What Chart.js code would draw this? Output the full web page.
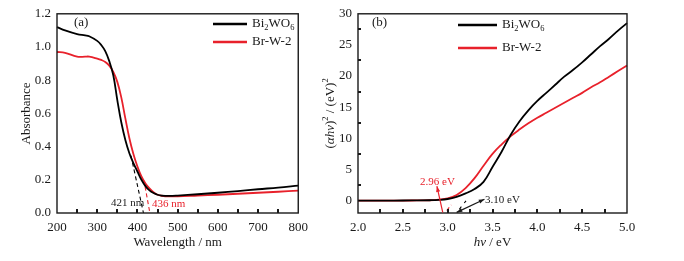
<!DOCTYPE html>
<html>
<head>
<meta charset="utf-8">
<script src="https://cdn.jsdelivr.net/npm/chart.js@4.4.1/dist/chart.umd.min.js"></script>
<style>
  html, body { margin: 0; padding: 0; background: #fff; }
  #wrap { position: relative; width: 684px; height: 261px; overflow: hidden; }
  canvas { position: absolute; top: 0; }
</style>
</head>
<body>
<div id="wrap">
  <canvas id="chartA" width="315" height="261" style="left:0"></canvas>
  <canvas id="chartB" width="369" height="261" style="left:315px"></canvas>
</div>
<script>
// panel (a): UV-vis absorbance
const waveNm = [200, 220, 250, 270, 280, 300, 310, 320, 330, 340, 350, 360, 370, 380, 390, 400, 410, 420, 430, 440, 450, 460, 480, 500, 550, 600, 650, 700, 750, 800];
const absBi2WO6 = [1.12, 1.10, 1.078, 1.07, 1.065, 1.037, 1.012, 0.975, 0.915, 0.83, 0.68, 0.545, 0.44, 0.36, 0.3, 0.25, 0.2, 0.162, 0.136, 0.12, 0.11, 0.105, 0.103, 0.105, 0.113, 0.122, 0.132, 0.143, 0.153, 0.165];
const absBrW2 = [0.97, 0.965, 0.942, 0.942, 0.942, 0.93, 0.922, 0.91, 0.888, 0.85, 0.79, 0.695, 0.57, 0.45, 0.355, 0.28, 0.22, 0.178, 0.148, 0.125, 0.11, 0.104, 0.1, 0.1, 0.105, 0.11, 0.116, 0.122, 0.128, 0.135];
const tangentBiNm = [384, 415];
const tangentBiAbs = [0.345, 0];
const tangentBrNm = [419, 431];
const tangentBrAbs = [0.16, 0];

// panel (b): Tauc plot
const energyEv = [2.0, 2.2, 2.4, 2.6, 2.8, 2.9, 3.0, 3.1, 3.2, 3.3, 3.4, 3.5, 3.6, 3.7, 3.8, 3.9, 4.0, 4.1, 4.2, 4.3, 4.4, 4.5, 4.6, 4.7, 4.8, 4.9, 5.0];
const taucBi2WO6 = [0, 0, 0, 0.02, 0.05, 0.1, 0.25, 0.6, 1.15, 1.85, 3.0, 5.4, 7.8, 10.5, 12.7, 14.5, 16.0, 17.3, 18.6, 19.9, 21.0, 22.2, 23.5, 24.8, 26.0, 27.3, 28.5];
const taucBrW2 = [0, 0, 0, 0.01, 0.05, 0.15, 0.35, 0.9, 2.0, 3.6, 5.6, 7.5, 9.0, 10.3, 11.4, 12.4, 13.3, 14.1, 14.9, 15.7, 16.5, 17.3, 18.2, 19.0, 19.9, 20.8, 21.7];
const tangentBiEv = [3.13, 3.24];
const tangentBiTauc = [-1.4, 0.6];
const tangentBrEv = [2.99, 3.04];
const tangentBrTauc = [-1.6, -0.7];
const arrowBrEv = [2.945, 2.88];
const arrowBrTauc = [-1.9, 2.3];
const arrowBiEv = [3.1, 3.41];
const arrowBiTauc = [-1.9, 0.2];
const yTicksB = [0, 5, 10, 15, 20, 25, 30];

const SERIF = "'Liberation Serif', 'Times New Roman', serif";
const RED = '#e8212b';
const INK = '#1a1a1a';

const pts = (xs, ys) => xs.map((x, i) => ({ x: x, y: ys[i] }));

// text made of runs: {t, it, sub, sup, color}
function drawRuns(ctx, runs, x, y, size, color) {
  let cx = x;
  runs.forEach(r => {
    const s = (r.sub || r.sup) ? size * 0.65 : size;
    ctx.font = (r.it ? 'italic ' : '') + s + 'px ' + SERIF;
    ctx.fillStyle = r.color || color;
    const dy = r.sub ? size * 0.3 : r.sup ? -size * 0.38 : 0;
    ctx.fillText(r.t, cx, y + dy);
    cx += ctx.measureText(r.t).width;
  });
  return cx - x;
}
function runsWidth(ctx, runs, size) {
  let w = 0;
  runs.forEach(r => {
    const s = (r.sub || r.sup) ? size * 0.65 : size;
    ctx.font = (r.it ? 'italic ' : '') + s + 'px ' + SERIF;
    w += ctx.measureText(r.t).width;
  });
  return w;
}

const bi2wo6Runs = [{ t: 'Bi' }, { t: '2', sub: true }, { t: 'WO' }, { t: '6', sub: true }];

// box + inward ticks
const frame = {
  id: 'frame',
  afterDatasetsDraw(chart, args, o) {
    const { ctx, chartArea: a, scales: { x, y } } = chart;
    ctx.save();
    ctx.strokeStyle = INK;
    ctx.lineWidth = 2;
    for (let v = x.min + o.xStep; v < x.max - 1e-9; v += o.xStep) {
      const px = Math.round(x.getPixelForValue(v));
      ctx.beginPath(); ctx.moveTo(px, a.bottom); ctx.lineTo(px, a.bottom - o.tick); ctx.stroke();
    }
    if (o.yStep) {
      for (let v = o.yStart; v < y.max; v += o.yStep) {
        const py = Math.round(y.getPixelForValue(v));
        ctx.beginPath(); ctx.moveTo(a.left, py); ctx.lineTo(a.left + 3, py); ctx.stroke();
      }
    }
    ctx.lineWidth = 1.4;
    ctx.strokeRect(a.left, a.top, a.right - a.left, a.bottom - a.top);
    ctx.restore();
  }
};

// legend, panel letter, notes, arrows, axis titles
const notes = {
  id: 'notes',
  afterDraw(chart, args, o) {
    const { ctx, chartArea: a, scales: { x, y } } = chart;
    ctx.save();
    ctx.textBaseline = 'middle';
    ctx.textAlign = 'left';
    ctx.font = '13px ' + SERIF;
    ctx.fillStyle = INK;
    ctx.fillText(o.letter, o.letterX, 23);
    o.legend.forEach(l => {
      ctx.strokeStyle = l.color; ctx.lineWidth = 2.4;
      ctx.beginPath(); ctx.moveTo(l.x0, l.y); ctx.lineTo(l.x1, l.y); ctx.stroke();
      drawRuns(ctx, l.runs, l.x1 + 5, l.y, 13, INK);
    });
    (o.labels || []).forEach(l => {
      ctx.font = '11px ' + SERIF;
      ctx.fillStyle = l.color;
      ctx.fillText(l.t, l.x, l.y);
    });
    (o.arrows || []).forEach(ar => {
      const x0 = x.getPixelForValue(ar.xs[0]), y0 = y.getPixelForValue(ar.ys[0]);
      const x1 = x.getPixelForValue(ar.xs[1]), y1 = y.getPixelForValue(ar.ys[1]);
      ctx.strokeStyle = ar.color; ctx.fillStyle = ar.color; ctx.lineWidth = 1.2;
      ctx.beginPath(); ctx.moveTo(x0, y0); ctx.lineTo(x1, y1); ctx.stroke();
      const head = (hx, hy, fx, fy) => {
        const ang = Math.atan2(hy - fy, hx - fx);
        ctx.beginPath();
        ctx.moveTo(hx, hy);
        ctx.lineTo(hx - 6 * Math.cos(ang - 0.35), hy - 6 * Math.sin(ang - 0.35));
        ctx.lineTo(hx - 6 * Math.cos(ang + 0.35), hy - 6 * Math.sin(ang + 0.35));
        ctx.closePath(); ctx.fill();
      };
      head(x1, y1, x0, y0);
      if (ar.both) head(x0, y0, x1, y1);
    });
    // axis titles
    ctx.fillStyle = INK;
    const xw = runsWidth(ctx, o.xTitle, 13);
    drawRuns(ctx, o.xTitle, (a.left + a.right) / 2 - xw / 2, 243, 13, INK);
    ctx.translate(o.yTitleX, (a.top + a.bottom) / 2);
    ctx.rotate(-Math.PI / 2);
    const yw = runsWidth(ctx, o.yTitle, 13);
    drawRuns(ctx, o.yTitle, -yw / 2, 0, 13, INK);
    ctx.restore();
  }
};

const tickFont = { family: SERIF, size: 13 };

function lineSet(data, color, width, dash) {
  return {
    data: data, borderColor: color, borderWidth: width, borderDash: dash || [],
    pointRadius: 0, fill: false, tension: 0.4, clip: false
  };
}

new Chart(document.getElementById('chartA'), {
  type: 'line',
  data: {
    datasets: [
      lineSet(pts(waveNm, absBi2WO6), '#000', 1.8),
      lineSet(pts(waveNm, absBrW2), RED, 1.8),
      lineSet(pts(tangentBiNm, tangentBiAbs), '#000', 1.1, [4, 3]),
      lineSet(pts(tangentBrNm, tangentBrAbs), RED, 1.1, [4, 3])
    ]
  },
  options: {
    responsive: false, animation: false, devicePixelRatio: 1,
    layout: { padding: { top: 12, right: 12, left: 0, bottom: 0 } },
    plugins: {
      legend: { display: false }, tooltip: { enabled: false },
      frame: { xStep: 50, tick: 4 },
      notes: {
        letter: '(a)', letterX: 74,
        legend: [
          { x0: 213, x1: 247, y: 24, color: '#000', runs: bi2wo6Runs },
          { x0: 213, x1: 247, y: 42, color: RED, runs: [{ t: 'Br-W-2' }] }
        ],
        labels: [
          { t: '421 nm', x: 111, y: 203, color: INK },
          { t: '436 nm', x: 152, y: 204, color: RED }
        ],
        xTitle: [{ t: 'Wavelength / nm' }],
        yTitle: [{ t: 'Absorbance' }],
        yTitleX: 27
      }
    },
    scales: {
      x: {
        type: 'linear', min: 200, max: 800,
        ticks: { stepSize: 100, font: tickFont, color: INK, padding: 7, maxRotation: 0 },
        grid: { display: false, drawTicks: false }, border: { display: false },
        afterFit: s => { s.height = 48; }
      },
      y: {
        min: 0, max: 1.2,
        ticks: { stepSize: 0.2, font: tickFont, color: INK, padding: 6, callback: v => v.toFixed(1) },
        grid: { display: false, drawTicks: false }, border: { display: false },
        afterFit: s => { s.width = 57; }
      }
    }
  },
  plugins: [frame, notes]
});

new Chart(document.getElementById('chartB'), {
  type: 'line',
  data: {
    datasets: [
      lineSet(pts(energyEv, taucBi2WO6), '#000', 1.8),
      lineSet(pts(energyEv, taucBrW2), RED, 1.8),
      lineSet(pts(tangentBiEv, tangentBiTauc), '#000', 1.1, [3, 5]),
      lineSet(pts(tangentBrEv, tangentBrTauc), RED, 1.1, [4, 3])
    ]
  },
  options: {
    responsive: false, animation: false, devicePixelRatio: 1,
    layout: { padding: { top: 12, right: 57, left: 0, bottom: 0 } },
    plugins: {
      legend: { display: false }, tooltip: { enabled: false },
      frame: { xStep: 0.25, tick: 4, yStep: 5, yStart: 2.5 },
      notes: {
        letter: '(b)', letterX: 57,
        legend: [
          { x0: 143, x1: 182, y: 25, color: '#000', runs: bi2wo6Runs },
          { x0: 143, x1: 182, y: 48, color: RED, runs: [{ t: 'Br-W-2' }] }
        ],
        labels: [
          { t: '2.96 eV', x: 105, y: 182, color: RED },
          { t: '3.10 eV', x: 170, y: 200, color: INK }
        ],
        arrows: [
          { xs: arrowBrEv, ys: arrowBrTauc, color: RED },
          { xs: arrowBiEv, ys: arrowBiTauc, color: INK, both: true }
        ],
        xTitle: [{ t: 'h', it: true }, { t: 'ν', it: true }, { t: ' / eV' }],
        yTitle: [{ t: '(' }, { t: 'αhν', it: true }, { t: ')' }, { t: '2', sup: true }, { t: ' / (eV)' }, { t: '2', sup: true }],
        yTitleX: 16
      }
    },
    scales: {
      x: {
        type: 'linear', min: 2.0, max: 5.0,
        ticks: { stepSize: 0.5, font: tickFont, color: INK, padding: 7, maxRotation: 0, callback: v => v.toFixed(1) },
        grid: { display: false, drawTicks: false }, border: { display: false },
        afterFit: s => { s.height = 48; }
      },
      y: {
        min: -2, max: 30,
        afterBuildTicks: s => { s.ticks = yTicksB.map(v => ({ value: v })); },
        ticks: { font: tickFont, color: INK, padding: 6 },
        grid: { display: false, drawTicks: false }, border: { display: false },
        afterFit: s => { s.width = 43; }
      }
    }
  },
  plugins: [frame, notes]
});
</script>
</body>
</html>
